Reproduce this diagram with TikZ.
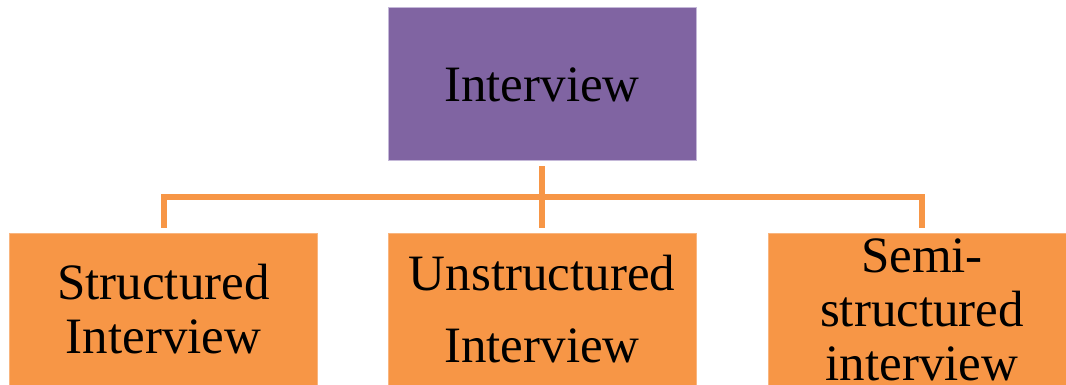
\documentclass[tikz,border=0pt]{standalone}
\usepackage{fontspec}
\setmainfont{Liberation Serif}
\definecolor{boxpurple}{RGB}{128,100,162}
\definecolor{boxorange}{RGB}{247,150,70}
\definecolor{edgepurple}{RGB}{196,184,216}
\tikzset{
  box/.style={minimum width=154pt, minimum height=76.5pt, inner sep=0pt, align=center,
    font=\fontsize{25.5}{27}\selectfont},
  topbox/.style={box, fill=boxpurple, draw=edgepurple, line width=0.5pt},
  subbox/.style={box, fill=boxorange, draw=boxorange!70!white, line width=0.5pt},
  link/.style={draw=boxorange, line width=3pt}
}
\begin{document}
\begin{tikzpicture}[x=0.5pt, y=-0.5pt]
\useasboundingbox (0,0) rectangle (1066,385);
\clip (0,0) rectangle (1066,385);
\node[topbox] (interview) at (542,84.5) {Interview};
\node[subbox] (struct) at (163.5,309.5) {Structured\\Interview};
\node[subbox, font=\fontsize{25.5}{36}\selectfont] (unstruct) at (542,309.5) {Unstructured\\Interview};
\node[subbox] (semi) at (922,309.5) {Semi-\\structured\\interview};
\coordinate (bus) at (542,197);
\draw[link] ([yshift=-2.5pt]interview.south) -- ([yshift=2.5pt]unstruct.north);
\draw[link] ([yshift=2.5pt]struct.north) -- (struct.north |- bus) -- (semi.north |- bus) -- ([yshift=2.5pt]semi.north);
\end{tikzpicture}
\end{document}
